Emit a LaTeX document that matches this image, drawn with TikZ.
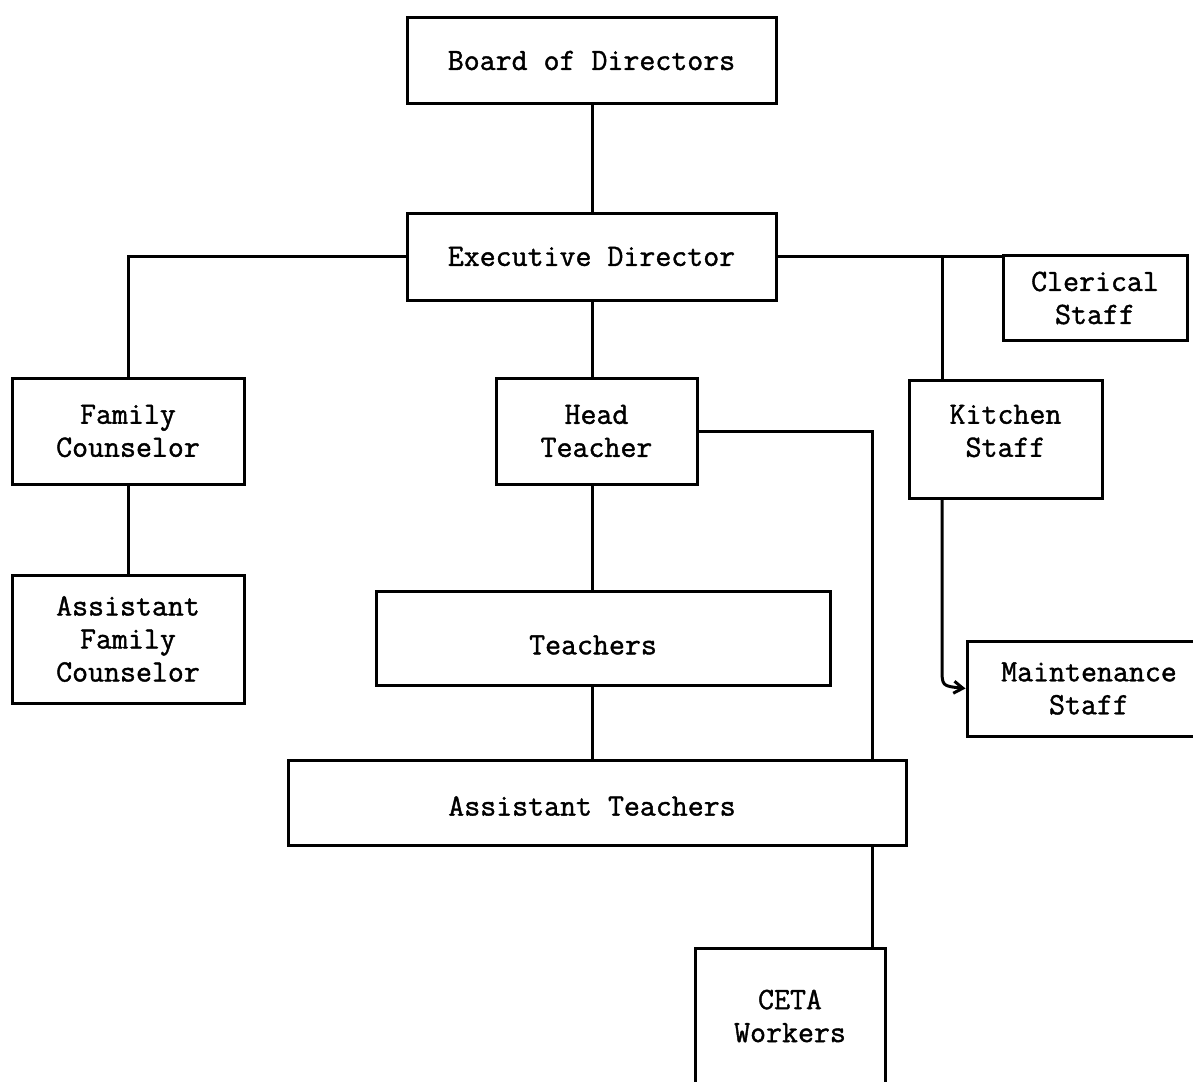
\documentclass[tikz,border=0pt]{standalone}
\usepackage{fontspec}
\newfontfamily\tw[FakeBold=1.3]{Latin Modern Mono}
\usetikzlibrary{arrows.meta}
\tikzset{
  box/.style={draw, line width=3pt, rectangle, align=center, inner sep=0pt,
    font=\tw\fontsize{31pt}{33pt}\selectfont},
  lbl/.style={align=center, inner sep=0pt, font=\tw\fontsize{31pt}{33pt}\selectfont},
  link/.style={line width=3pt},
}
\begin{document}
\begin{tikzpicture}[x=1pt,y=-1pt]
\useasboundingbox (0,0) rectangle (1193,1081);
\node[box, minimum width=369pt, minimum height=85pt] (board) at (591.5,60.5) {Board of Directors};
\node[box, minimum width=369pt, minimum height=87pt] (exec) at (591.5,256.5) {Executive Director};
\node[box, minimum width=184pt, minimum height=85pt] (cler) at (1095,298) {Clerical\\Staff};
\node[box, minimum width=232pt, minimum height=106pt] (fam) at (128,431) {Family\\Counselor};
\node[box, minimum width=201pt, minimum height=106pt] (head) at (596.5,431) {Head\\Teacher};
\node[box, minimum width=193pt, minimum height=118pt] (kit) at (1005.5,439) {};
\node[lbl] (kittext) at (1005.5,431) {Kitchen\\Staff};
\node[box, minimum width=232pt, minimum height=128pt] (afam) at (128,639) {Assistant\\Family\\Counselor};
\node[box, minimum width=454pt, minimum height=94pt] (teach) at (603,638) {};
\node[lbl] (teachtext) at (593,645) {Teachers};
\node[box, minimum width=244pt, minimum height=95pt] (maint) at (1089,688.5) {Maintenance\\Staff};
\node[box, minimum width=618pt, minimum height=85pt] (at) at (597,802.5) {};
\node[lbl] (attext) at (592,806) {Assistant Teachers};
\node[box, minimum width=190pt, minimum height=136pt] (ceta) at (790,1016) {CETA\\Workers};
\coordinate (sp) at (592,0);
\coordinate (kj) at (942,256.5);
\coordinate (cj) at (872,0);
\coordinate (bend) at (942,668);
\draw[link] (sp |- board.south) -- (sp |- exec.north);
\draw[link] (exec.west) -| (fam.north);
\draw[link] (exec.east) -- (exec.east -| cler.west);
\draw[link] (kj) -- (kj |- kit.north);
\draw[link] (sp |- exec.south) -- (sp |- head.north);
\draw[link] (sp |- head.south) -- (sp |- teach.north);
\draw[link] (sp |- teach.south) -- (sp |- at.north);
\draw[link] (head.east) -| (cj |- at.north);
\draw[link] (cj |- at.south) -- (cj |- ceta.north);
\draw[link] (fam.south) -- (afam.north);
\draw[link, -{Straight Barb[length=9pt,width=12pt]}] (kj |- kit.south) -- (bend) .. controls (942,686) .. (maint.west);
\end{tikzpicture}
\end{document}
